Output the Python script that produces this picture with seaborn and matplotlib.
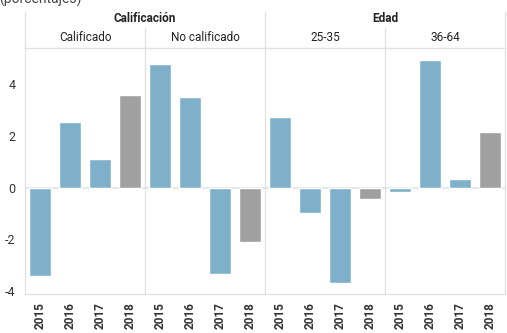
import numpy as np
import pandas as pd
import matplotlib
matplotlib.use("Agg")
import matplotlib.pyplot as plt
from matplotlib.lines import Line2D
import seaborn as sns

years = ["2015", "2016", "2017", "2018"]
panels = ["Calificado", "No calificado", "25-35", "36-64"]
groups = ["Calificación", "Edad"]
calificado = [-3.41, 2.55, 1.10, 3.56]
no_calificado = [4.77, 3.51, -3.33, -2.10]
edad_25_35 = [2.72, -0.98, -3.69, -0.46]
edad_36_64 = [-0.19, 4.92, 0.33, 2.13]
yticks = [-4, -2, 0, 2, 4]

BLUE = "#7fb0ca"
GRAY = "#a0a0a0"
LINE = "#e2e2e2"
TXT = "#333333"

sns.set_style("white")
plt.rcParams["font.family"] = ["Roboto", "DejaVu Sans"]

W, H = 507, 333
fig = plt.figure(figsize=(W / 100, H / 100), dpi=100)


def fx(px):
    return px / W


def fy(py):
    return 1 - py / H


left, right, top, bottom = 25, 505, 48, 294
axes = fig.subplots(1, 4, sharey=True, gridspec_kw={"wspace": 0})
fig.subplots_adjust(left=fx(left), right=fx(right), top=fy(top), bottom=fy(bottom))

series = [calificado, no_calificado, edad_25_35, edad_36_64]
palette = [BLUE, BLUE, BLUE, GRAY]
for i, (ax, vals) in enumerate(zip(axes, series)):
    df = pd.DataFrame({"year": years, "value": vals})
    sns.barplot(data=df, x="year", y="value", hue="year", palette=palette,
                legend=False, width=0.76, saturation=1, ax=ax)
    ax.axhline(0, color=LINE, lw=1.2, zorder=0)
    ax.set_ylim(-4.11, 5.39)
    ax.set_xlim(-0.5, 3.5)
    ax.set_xlabel("")
    ax.set_ylabel("")
    for s in ax.spines.values():
        s.set_color(LINE)
        s.set_linewidth(1)
    ax.spines["right"].set_visible(i == 3)
    ax.set_xticks(range(4))
    ax.set_xticklabels(years, rotation=90, fontsize=8.5, fontweight="bold", color=TXT)
    ax.set_xticks([0.5, 1.5, 2.5], minor=True)
    ax.tick_params(axis="x", which="major", length=0, pad=6)
    ax.tick_params(axis="x", which="minor", length=5, color=LINE)
    if i == 0:
        ax.set_yticks(yticks)
        ax.set_yticklabels([str(t) for t in yticks])
        ax.tick_params(axis="y", length=4, color=LINE, labelsize=9, labelcolor=TXT, pad=3)
    else:
        ax.tick_params(axis="y", length=0, labelleft=False)

# header lines
hdr = dict(color=LINE, lw=1, transform=fig.transFigure, clip_on=False)
for x in [25, 265, 505]:
    fig.add_artist(Line2D([fx(x), fx(x)], [fy(12), fy(top)], **hdr))
for x in [145, 385]:
    fig.add_artist(Line2D([fx(x), fx(x)], [fy(28), fy(top)], **hdr))

# group and panel headers
for j, g in enumerate(groups):
    cx = left + 120 + j * 240
    fig.text(fx(cx), fy(18), g, ha="center", va="center", fontsize=8.5,
             fontweight="bold", color="#222222")
for j, p in enumerate(panels):
    cx = left + 60 + j * 120
    fig.text(fx(cx), fy(37.5), p, ha="center", va="center", fontsize=8.5, color="#222222")

fig.text(fx(-1), fy(4), "(porcentajes)", ha="left", va="baseline", fontsize=10, color="#444444")

fig.savefig("out.png", dpi=100)
